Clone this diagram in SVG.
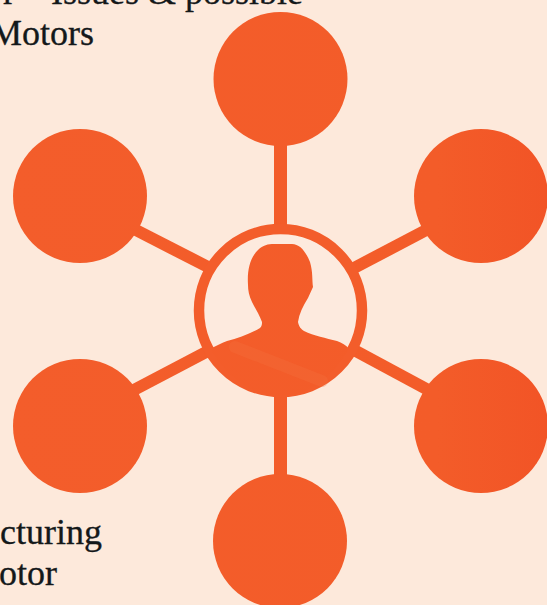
<svg xmlns="http://www.w3.org/2000/svg" width="547" height="605" viewBox="0 0 547 605">
<defs>
<linearGradient id="o" gradientUnits="userSpaceOnUse" x1="0" y1="0" x2="547" y2="0">
<stop offset="0" stop-color="#f35d2b"/><stop offset="0.8" stop-color="#f35c29"/><stop offset="1" stop-color="#f25426"/>
</linearGradient>
</defs>
<style>
.n{fill:url(#o)}
.c{stroke:url(#o);stroke-width:12;fill:none}
.s{stroke:#f4703f;stroke-width:12;fill:none;opacity:.3;stroke-linecap:round}
text{font-family:"Liberation Serif",serif;font-size:36px;fill:#14181a;stroke:#14181a;stroke-width:.3}
</style>
<rect width="547" height="605" fill="#fde9db"/>
<g id="connectors">
<path class="c" style="stroke-width:13" d="M280.500 140V232"/>
<path class="c" style="stroke-width:13" d="M280.500 390V480"/>
<path class="c" d="M130 227L210 268"/>
<path class="c" d="M432 227L354 268"/>
<path class="c" d="M130 392L210 350"/>
<path class="c" d="M432 392L354 350"/>
</g>
<g id="node-top"><circle class="n" cx="280.500" cy="79" r="67"/></g>
<g id="node-upper-left"><circle class="n" cx="80" cy="196" r="67"/></g>
<g id="node-upper-right"><circle class="n" cx="481" cy="196" r="67"/></g>
<g id="node-lower-left"><circle class="n" cx="80" cy="426" r="67"/></g>
<g id="node-lower-right"><circle class="n" cx="481" cy="426" r="67"/></g>
<g id="node-bottom"><circle class="n" cx="280" cy="541" r="67"/></g>
<g id="node-center">
<circle cx="280.500" cy="310.500" r="81.500" fill="#fdeade" stroke="#f35d2b" stroke-width="10.500"/>
<path class="n" d="M248 285C247 270 250 258 258 250C263 245 268 244 274 244H292C300 244 306 252 310 262C313 272 312 280 313 287L308 298C303 306 299 314 298 322C299 327 301 329 304 331C314 336 326 338 337 341C342 343 346 345 349 349C332 378 308 396 280 396C252 396 228 378 210 349C216 346 221 343 227 341C238 338 250 334 260 328C262 326 262 324 262 322C259 314 255 308 252 302C249 296 248 290 248 285Z"/>
<path class="s" d="M235 347L322 381"/>
</g>
<g id="texts">
<text x="3" y="4">r – Issues &amp; possible</text>
<text x="-10" y="45">Motors</text>
<text x="0" y="544">cturing</text>
<text x="-1" y="585">otor</text>
</g>
</svg>
